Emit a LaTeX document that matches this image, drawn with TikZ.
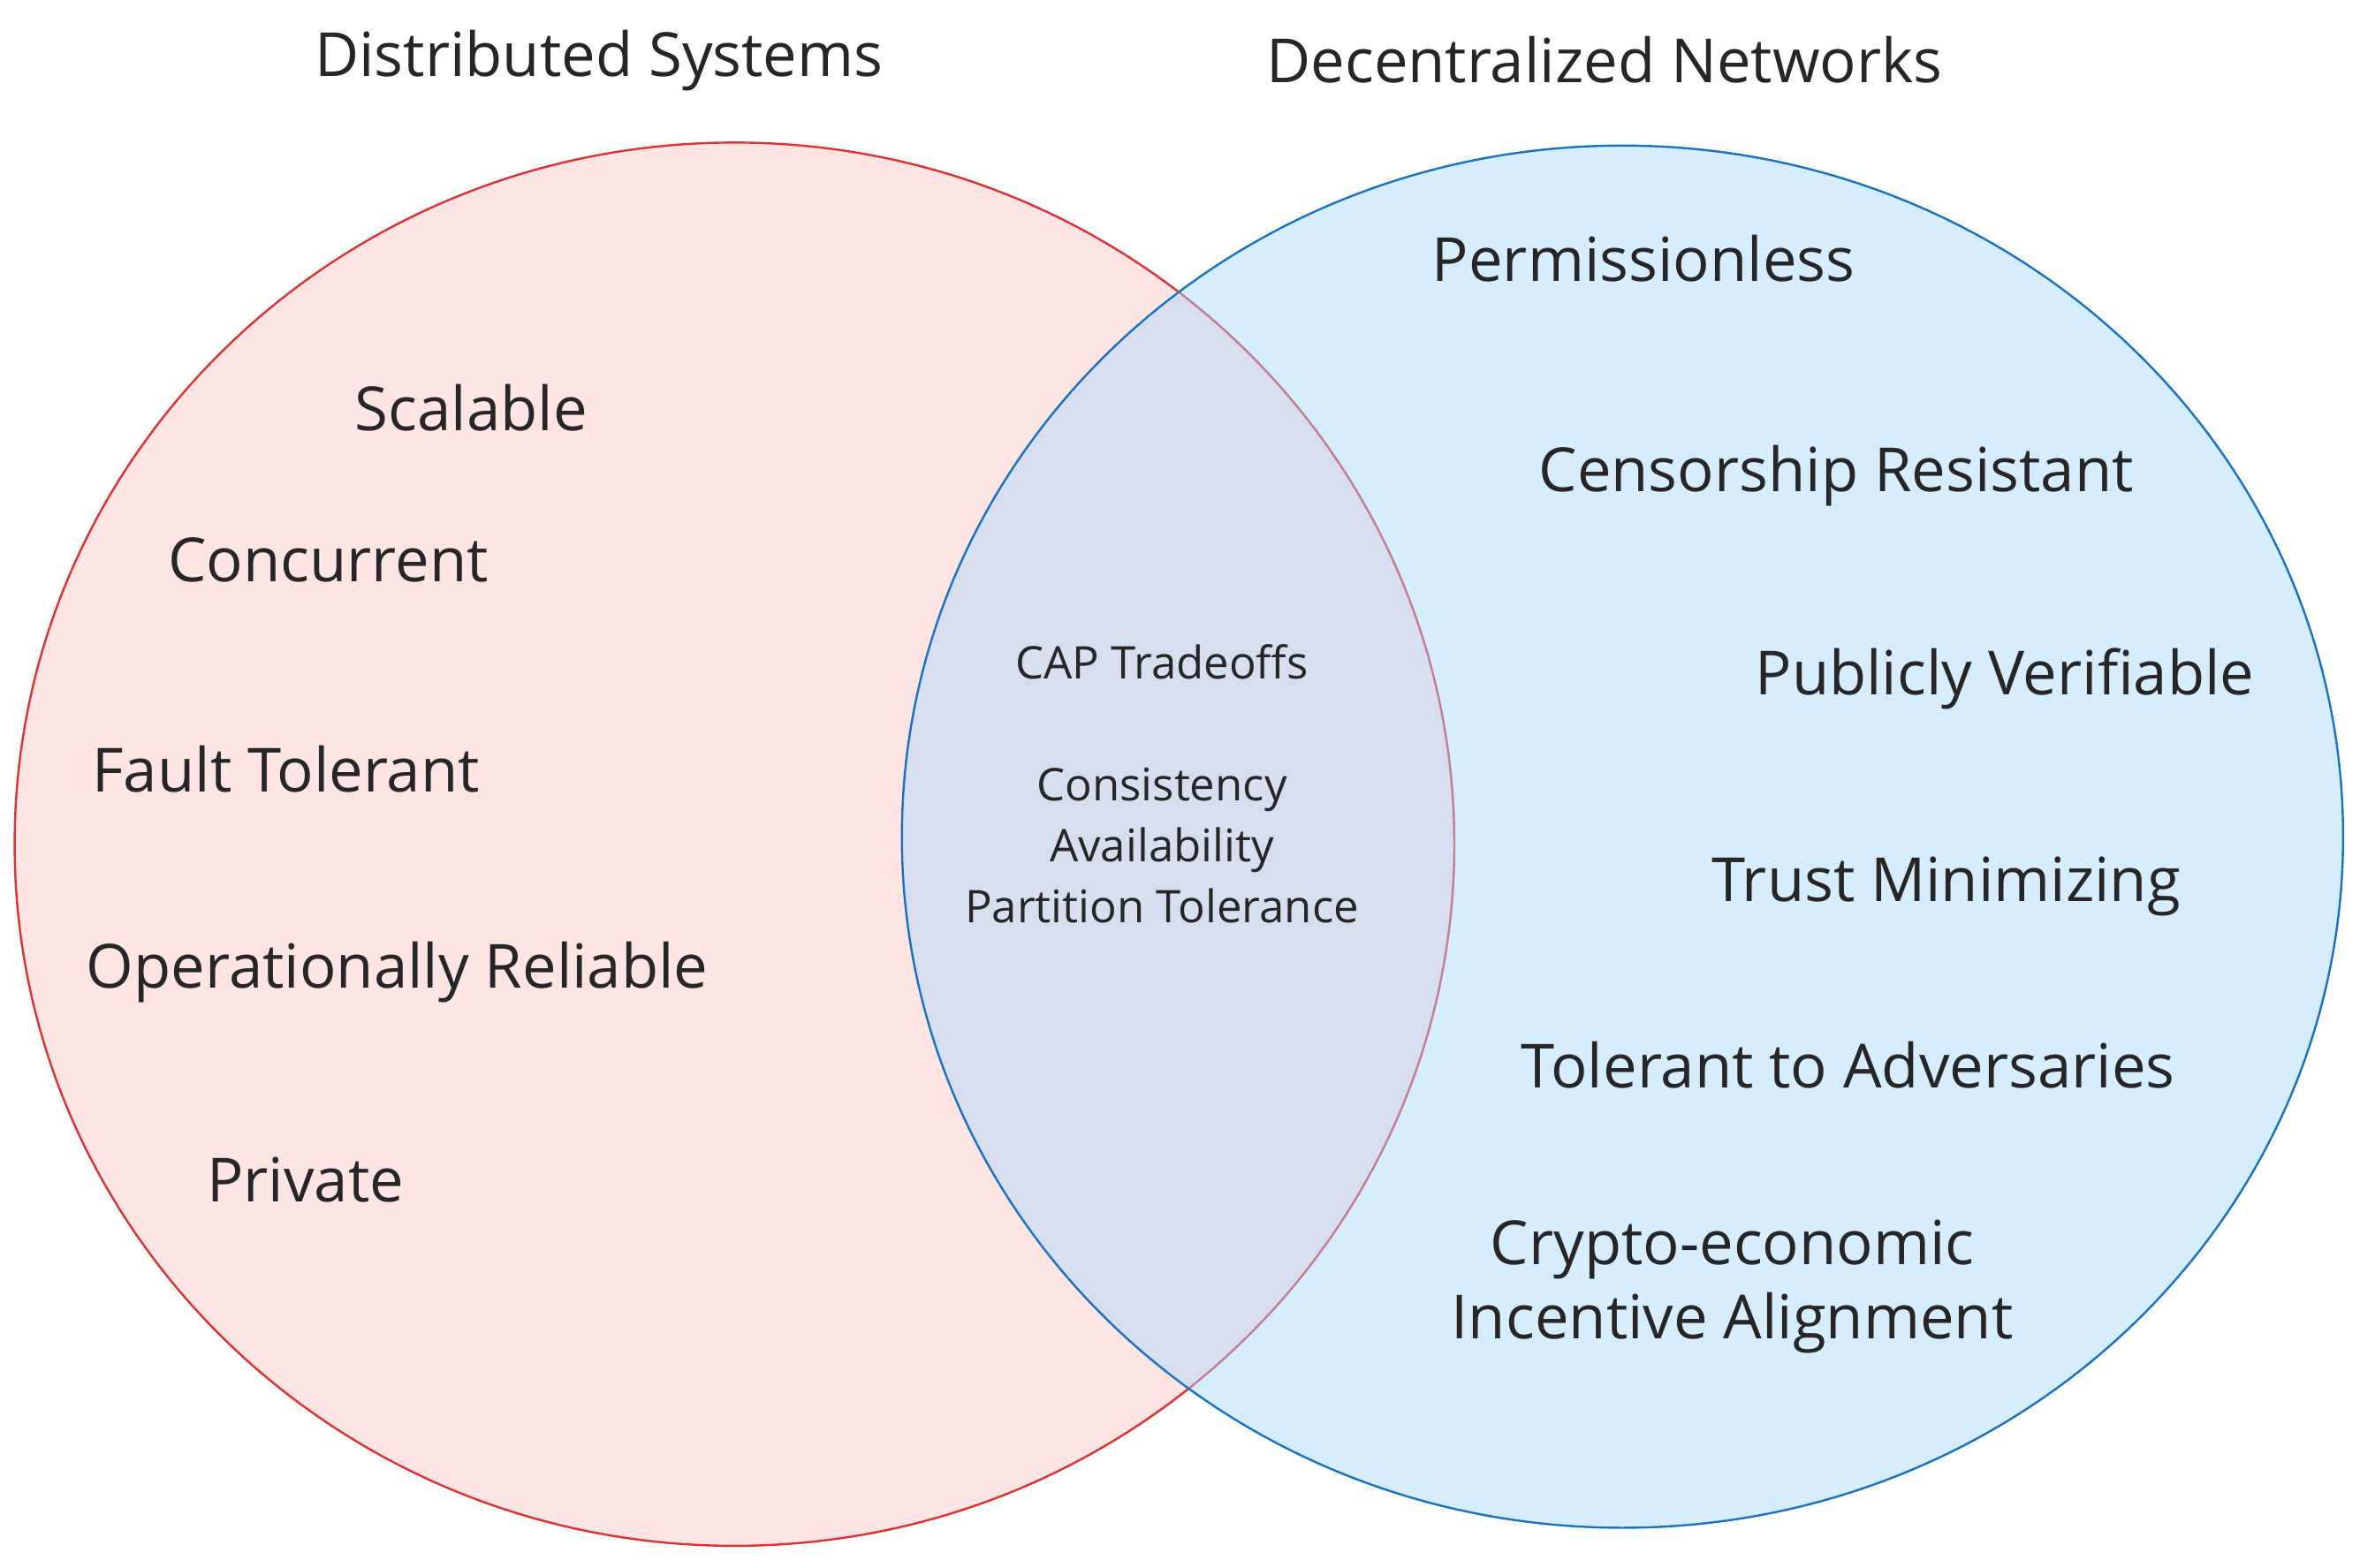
\documentclass[tikz,border=0pt]{standalone}
\usepackage{fontspec}
\usetikzlibrary{shapes.geometric}
\setmainfont{Open Sans}
\definecolor{redline}{RGB}{224,49,49}
\definecolor{blueline}{RGB}{25,113,194}
\definecolor{redfill}{RGB}{255,201,201}
\definecolor{bluefill}{RGB}{165,216,255}
\begin{document}
\begin{tikzpicture}[x=0.01cm,y=-0.01cm,
  big/.style={font=\fontsize{11.5}{14}\selectfont,text=black!85},
  small/.style={font=\fontsize{8.5}{11.5}\selectfont,text=black!85,align=center},
  title/.style={font=\fontsize{11.5}{14}\selectfont,text=black!85}]
\useasboundingbox (0,0) rectangle (1568,1042);
\node[draw=redline,fill=redfill,fill opacity=0.5,draw opacity=1,ellipse,minimum width=9.56cm,minimum height=9.32cm,inner sep=0] (A) at (488,561) {};
\node[draw=blueline,fill=bluefill,fill opacity=0.45,draw opacity=1,ellipse,minimum width=9.57cm,minimum height=9.18cm,inner sep=0] (B) at (1078,556) {};
\node[title] (t1) at (398,40) {Distributed Systems};
\node[title] (t2) at (1066,40) {Decentralized Networks};
\node[big] (a1) at (313,271) {Scalable};
\node[big] (a2) at (218,372) {Concurrent};
\node[big] (a3) at (190,511) {Fault Tolerant};
\node[big] (a4) at (264,646) {Operationally Reliable};
\node[big] (a5) at (203,784) {Private};
\node[small] (c1) at (772,440) {CAP Tradeoffs};
\node[small] (c2) at (772,562) {Consistency\\Availability\\Partition Tolerance};
\node[big] (b1) at (1092,172) {Permissionless};
\node[big] (b2) at (1220,316) {Censorship Resistant};
\node[big] (b3) at (1332,451) {Publicly Verifiable};
\node[big] (b4) at (1293,589) {Trust Minimizing};
\node[big] (b5) at (1228,708) {Tolerant to Adversaries};
\node[big,align=center] (b6) at (1151,855) {Crypto-economic\\Incentive Alignment};
\end{tikzpicture}
\end{document}
